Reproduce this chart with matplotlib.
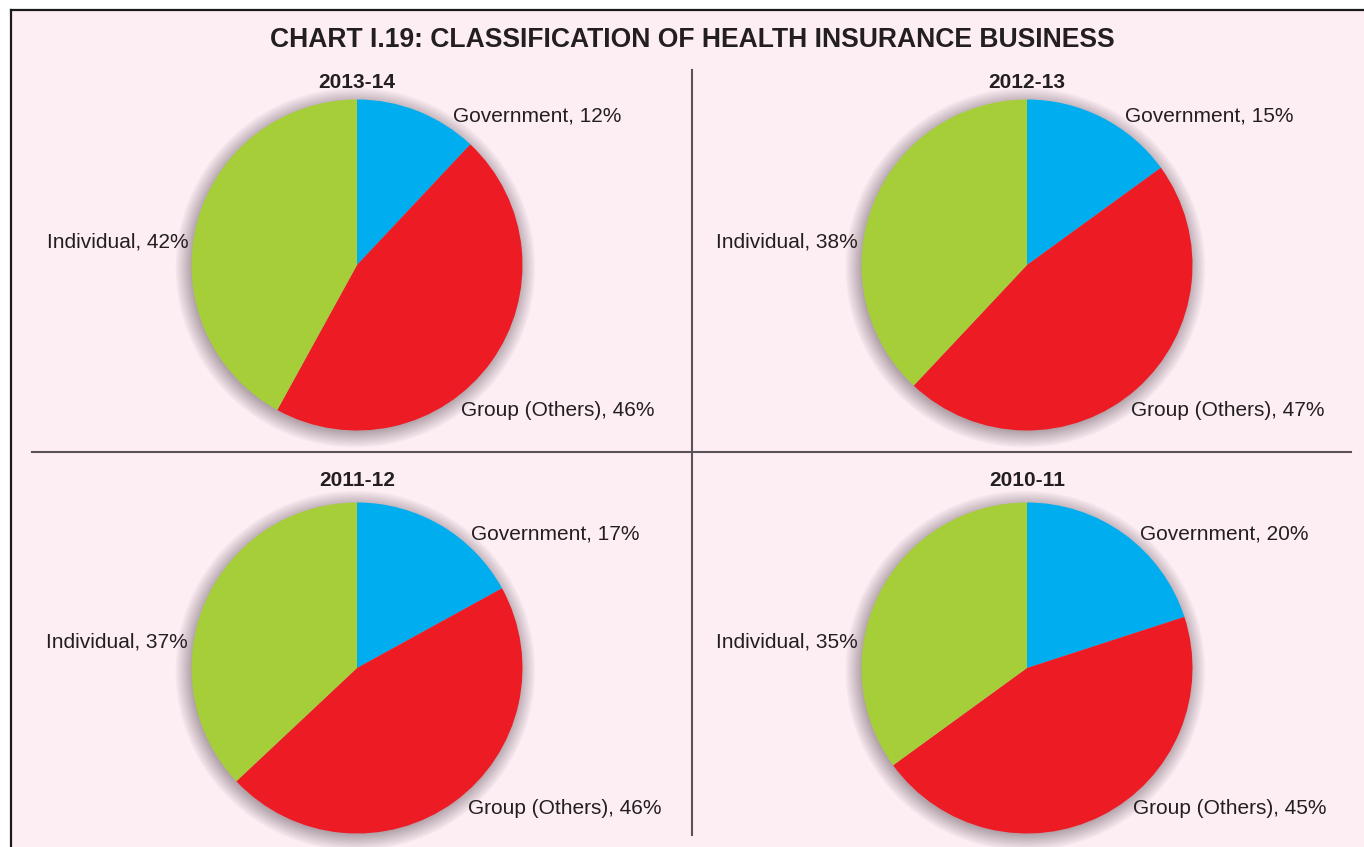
import numpy as np
import matplotlib
matplotlib.use("Agg")
import matplotlib.pyplot as plt
from matplotlib.patches import Circle, Rectangle

# -----------------------------------------------------------------
# Data
# -----------------------------------------------------------------
years = ["2013-14", "2012-13", "2011-12", "2010-11"]
categories = ["Government", "Group (Others)", "Individual"]
government = [12, 15, 17, 20]
group_others = [46, 47, 46, 45]
individual = [42, 38, 37, 35]

colors = ["#00aeef", "#ed1c24", "#a6ce39"]
bg = "#fdeef4"
ink = "#231f20"

plt.rcParams["font.family"] = ["Liberation Sans", "DejaVu Sans"]

W, H = 1364, 847
fig = plt.figure(figsize=(W / 100, H / 100), dpi=100, facecolor="white")

# background panel in pixel coords
bga = fig.add_axes([0, 0, 1, 1])
bga.set_xlim(0, W)
bga.set_ylim(H, 0)
bga.set_axis_off()
bga.add_patch(Rectangle((11, 10), W, H, facecolor=bg, edgecolor="none"))
bga.plot([11, 11], [10, H], color="#1a1a1a", lw=1.6)
bga.plot([11, W], [10, 10], color="#1a1a1a", lw=1.6)
bga.plot([692, 692], [70, 835], color="#5a5257", lw=1.5)
bga.plot([32, 1351], [452, 452], color="#5a5257", lw=1.5)
bga.text(692.5, 40, "CHART I.19: CLASSIFICATION OF HEALTH INSURANCE BUSINESS",
         ha="center", va="center", fontsize=19.1, fontweight="bold", color=ink)

# pie centres (px) and label anchors (in radius units)
centres = [(357, 265), (1027, 265), (357, 668), (1027, 668)]
R = 165.5
half = 1.25
lab_pos = [
    [(0.58, 0.90), (0.63, -0.88), (-1.02, 0.14)],
    [(0.59, 0.90), (0.63, -0.88), (-1.02, 0.14)],
    [(0.69, 0.81), (0.67, -0.85), (-1.02, 0.16)],
    [(0.68, 0.81), (0.64, -0.85), (-1.02, 0.16)],
]
title_y = [1.10, 1.10, 1.13, 1.13]

for i, yr in enumerate(years):
    cx, cy = centres[i]
    size = 2 * half * R
    ax = fig.add_axes([(cx - size / 2) / W, (H - cy - size / 2) / H, size / W, size / H])

    # soft shadow: stacked translucent discs, densest near the rim
    for k in range(36):
        ax.add_patch(Circle((-0.01, -0.016), 0.99 + k * 0.0028,
                            facecolor="#4a3a45", edgecolor="none",
                            alpha=0.011, zorder=0))

    vals = [government[i], group_others[i], individual[i]]
    ax.pie(vals, colors=colors, startangle=90, counterclock=False,
           radius=1.0, wedgeprops=dict(linewidth=0), frame=True)
    ax.set_xlim(-half, half)
    ax.set_ylim(-half, half)
    ax.set_axis_off()

    ax.text(0, title_y[i], yr, ha="center", va="center",
            fontsize=15, fontweight="bold", color=ink)
    for j, cat in enumerate(categories):
        x, y = lab_pos[i][j]
        ax.text(x, y, f"{cat}, {vals[j]}%", ha="right" if x < 0 else "left",
                va="center", fontsize=15, color=ink)

fig.savefig("out.png", dpi=100, facecolor=fig.get_facecolor())
